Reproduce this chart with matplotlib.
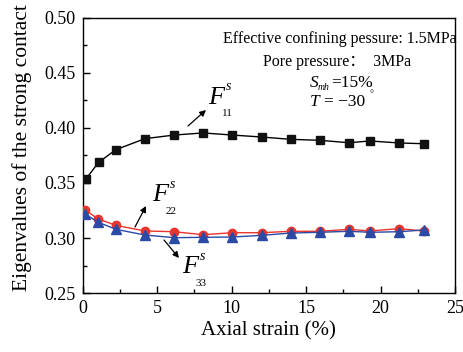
import matplotlib
matplotlib.use("Agg")
import matplotlib.pyplot as plt
from matplotlib.ticker import MultipleLocator

plt.rcParams['font.family'] = ['Liberation Serif', 'DejaVu Serif']

x_f11 = [0.2, 1.07, 2.23, 4.18, 6.15, 8.09, 10.04, 12.01, 13.96, 15.93, 17.87, 19.28, 21.25, 22.9]
f11 = [0.3534, 0.3688, 0.3803, 0.3903, 0.3936, 0.3955, 0.3936, 0.3918, 0.3897, 0.3888, 0.3866, 0.3882, 0.3864, 0.3857]
x_f22 = [0.15, 1.05, 2.23, 4.18, 6.15, 8.09, 10.04, 12.01, 13.96, 15.93, 17.87, 19.28, 21.25, 22.9]
f22 = [0.3255, 0.3173, 0.3115, 0.3064, 0.3057, 0.3030, 0.3048, 0.3048, 0.3061, 0.3061, 0.3079, 0.3064, 0.3085, 0.3064]
x_f33 = [0.15, 1.05, 2.23, 4.18, 6.15, 8.09, 10.04, 12.01, 13.96, 15.93, 17.87, 19.28, 21.25, 22.9]
f33 = [0.3218, 0.3143, 0.3079, 0.3027, 0.3003, 0.3006, 0.3009, 0.3024, 0.3045, 0.3052, 0.3061, 0.3052, 0.3057, 0.3073]

fig = plt.figure(figsize=(4.63, 3.52), dpi=100)
ax = fig.add_axes([0.1786, 0.1676, 0.8041, 0.7813])

ax.plot(x_f11, f11, color='black', lw=1.0, marker='s', ms=5.5, mfc='#111111', mec='#111111', zorder=3)
ax.plot(x_f22, f22, color='#e8352d', lw=1.0, marker='o', ms=6, mfc='#e8352d', mec='#e8352d', zorder=3)
ax.plot(x_f33, f33, color='#2a4aa6', lw=1.0, marker='^', ms=6.5, mfc='#2a4aa6', mec='#2a4aa6', zorder=4)

ax.set_xlim(0, 25)
ax.set_ylim(0.25, 0.50)
ax.xaxis.set_major_locator(MultipleLocator(5))
ax.xaxis.set_minor_locator(MultipleLocator(2.5))
ax.yaxis.set_major_locator(MultipleLocator(0.05))
ax.yaxis.set_minor_locator(MultipleLocator(0.025))
ax.yaxis.set_major_formatter(matplotlib.ticker.FormatStrFormatter('%.2f'))
ax.tick_params(which='major', direction='in', length=5, width=1.0, labelsize=13, pad=5)
ax.tick_params(which='minor', direction='in', length=3, width=1.0)
for s in ax.spines.values():
    s.set_linewidth(1.0)

ax.set_xlabel('Axial strain (%)', fontsize=15, labelpad=3)
ax.set_ylabel('Eigenvalues of the strong contact', fontsize=15.5)
ax.yaxis.set_label_coords(-0.135, 0.53)

def px(xp, yp):
    return (xp / 463.0, 1 - yp / 352.0)

def flabel(xF, yF, sub):
    fig.text(*px(xF, yF), 'F', fontsize=19, style='italic', ha='left', va='center')
    fig.text(*px(xF + 18, yF - 11), 's', fontsize=10, style='italic', ha='left', va='center')
    fig.text(*px(xF + 14, yF + 16), sub, fontsize=8, ha='left', va='center')

flabel(208, 98, '11')
flabel(152, 195, '22')
flabel(182, 267, '33')

def arrow(x0, y0, x1, y1):
    ax.annotate('', xy=px(x1, y1), xycoords='figure fraction',
                xytext=px(x0, y0), textcoords='figure fraction',
                arrowprops=dict(arrowstyle='-|>', color='black', lw=0.9,
                                mutation_scale=9, shrinkA=0, shrinkB=0))

arrow(188, 126, 206, 110)
arrow(135, 227, 146, 206)
arrow(164, 240, 179, 258)

fig.text(*px(340, 39), 'Effective confining pessure: 1.5MPa', fontsize=11.5, ha='center', va='center')
fig.text(*px(337, 62), 'Pore pressure\uff1a  3MPa', fontsize=11.5, ha='center', va='center',
         family=['Liberation Serif', 'Noto Sans CJK SC'])
fig.text(*px(310, 83), 'S', fontsize=12.5, style='italic', ha='left', va='center')
fig.text(*px(318, 87), 'mh', fontsize=7, style='italic', ha='left', va='center')
fig.text(*px(331, 83), '=15%', fontsize=12.5, ha='left', va='center')
fig.text(*px(310, 102), 'T', fontsize=12.5, style='italic', ha='left', va='center')
fig.text(*px(324, 102), '= \u221230', fontsize=12.5, ha='left', va='center')
fig.text(*px(369, 95), '\u00b0', fontsize=7, ha='left', va='center')

fig.savefig('out.png', dpi=100)
